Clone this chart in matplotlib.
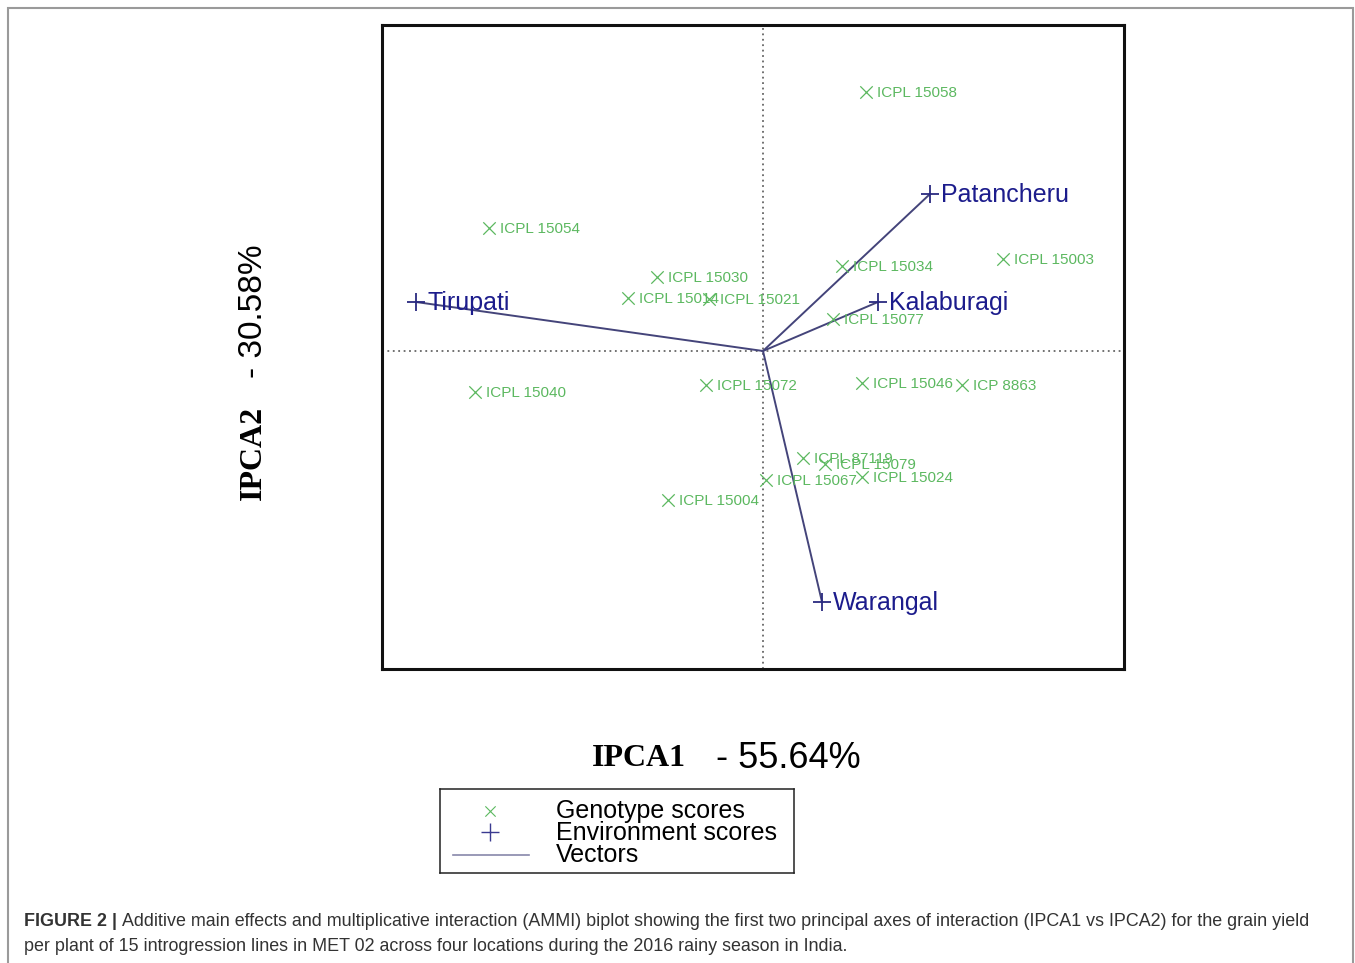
import matplotlib
matplotlib.use("Agg")
import matplotlib.pyplot as plt
from matplotlib.patches import Rectangle

# genotype scores (IPCA1, IPCA2)
genotypes = ["ICPL 15058", "ICPL 15054", "ICPL 15030", "ICPL 15014", "ICPL 15021",
             "ICPL 15034", "ICPL 15003", "ICPL 15077", "ICPL 15040", "ICPL 15072",
             "ICPL 15046", "ICP 8863", "ICPL 87119", "ICPL 15079", "ICPL 15067",
             "ICPL 15024", "ICPL 15004"]
gen_ipca1 = [0.515, -1.37, -0.53, -0.675, -0.27, 0.395, 1.20, 0.35, -1.44, -0.285,
             0.495, 0.995, 0.20, 0.31, 0.015, 0.495, -0.475]
gen_ipca2 = [1.295, 0.615, 0.37, 0.265, 0.26, 0.425, 0.46, 0.16, -0.205, -0.17,
             -0.16, -0.17, -0.535, -0.565, -0.645, -0.63, -0.745]

# environment scores
environments = ["Patancheru", "Tirupati", "Kalaburagi", "Warangal"]
env_ipca1 = [0.835, -1.735, 0.575, 0.295]
env_ipca2 = [0.785, 0.245, 0.245, -1.255]

xlabel_parts = ("IPCA1", "- 55.64%")
ylabel_parts = ("IPCA2", "- 30.58%")
legend_labels = ["Genotype scores", "Environment scores", "Vectors"]
caption_bold = "FIGURE 2 |"
caption_line1 = ("Additive main effects and multiplicative interaction (AMMI) biplot showing the first two "
                 "principal axes of interaction (IPCA1 vs IPCA2) for the grain yield")
caption_line2 = "per plant of 15 introgression lines in MET 02 across four locations during the 2016 rainy season in India."

GREEN = "#5cb860"
NAVY = "#1c1c8c"
VEC = "#44447a"
SANS = ["Liberation Sans", "DejaVu Sans"]
SERIF = ["Liberation Serif", "DejaVu Serif"]

W, H = 1355, 963
fig = plt.figure(figsize=(W / 100, H / 100), dpi=100)
fig.patch.set_facecolor("white")

def fx(px): return px / W
def fy(py): return 1 - py / H

ax = fig.add_axes([fx(382), fy(669), fx(1124) - fx(382), fy(25) - fy(669)])
ax.set_xlim(-1.905, 1.805)
ax.set_ylim(-1.59, 1.63)
ax.set_xticks([]); ax.set_yticks([])
for s in ax.spines.values():
    s.set_linewidth(2.2); s.set_color("#111111")

ax.axvline(0, color="#666666", lw=1.3, ls=(0, (1, 2)), zorder=1)
ax.axhline(0, color="#666666", lw=1.3, ls=(0, (1, 2)), zorder=1)

# vectors
for x, y in zip(env_ipca1, env_ipca2):
    ax.plot([0, x], [0, y], color=VEC, lw=1.4, zorder=2)

ax.scatter(gen_ipca1, gen_ipca2, marker="x", s=80, color=GREEN, linewidths=0.9, zorder=3)
for name, x, y in zip(genotypes, gen_ipca1, gen_ipca2):
    ax.annotate(name, (x, y), xytext=(8, -0.8), textcoords="offset points", va="center",
                ha="left", fontsize=11, color=GREEN, family=SANS, zorder=4)

ax.scatter(env_ipca1, env_ipca2, marker="+", s=150, color="#2a2a80", linewidths=1.3, zorder=3)
for name, x, y in zip(environments, env_ipca1, env_ipca2):
    ax.annotate(name, (x, y), xytext=(8, -0.8), textcoords="offset points", va="center",
                ha="left", fontsize=18, color=NAVY, family=SANS, zorder=4)

# axis titles: bold serif part + sans part
fig.text(fx(592), fy(758), xlabel_parts[0], fontsize=23, fontweight="bold", family=SERIF,
         ha="left", va="center")
fig.text(fx(716), fy(758), xlabel_parts[1], fontsize=26, family=SANS, ha="left", va="center")
fig.text(fx(253), fy(500), ylabel_parts[0], fontsize=23, fontweight="bold", family=SERIF,
         rotation=90, ha="center", va="bottom")
fig.text(fx(253), fy(378), ylabel_parts[1], fontsize=24, family=SANS,
         rotation=90, ha="center", va="bottom")

# legend box
lax = fig.add_axes([fx(440), fy(873), fx(794) - fx(440), fy(789) - fy(873)])
lax.set_xlim(0, 354); lax.set_ylim(84, 0)
lax.set_xticks([]); lax.set_yticks([])
for s in lax.spines.values():
    s.set_linewidth(1.1); s.set_color("#222222")
lax.scatter([50], [22], marker="x", s=55, color=GREEN, linewidths=0.8)
lax.scatter([50], [43], marker="+", s=170, color="#3a3a90", linewidths=1.0)
lax.plot([13, 89], [66, 66], color="#8888aa", lw=1.2)
for i, lab in enumerate(legend_labels):
    lax.text(116, 22 + 22 * i, lab, fontsize=18, family=SANS, va="center", ha="left")

# outer frame
fig.patches.append(Rectangle((fx(8), -0.05), fx(1353) - fx(8), fy(8) + 0.05,
                             transform=fig.transFigure, fill=False, edgecolor="#9a9a9a",
                             lw=1.5, clip_on=False))

# caption
cap_fs = 12.9
renderer = fig.canvas.get_renderer()
tb = fig.text(fx(24), fy(921), caption_bold, fontsize=cap_fs, fontweight="bold",
              family=SANS, color="#333333", ha="left", va="center")
bb = tb.get_window_extent(renderer)
fig.text(bb.x1 / W + fx(5), fy(921), caption_line1, fontsize=cap_fs, family=SANS,
         color="#333333", ha="left", va="center")
fig.text(fx(24), fy(946), caption_line2, fontsize=cap_fs, family=SANS,
         color="#333333", ha="left", va="center")

fig.savefig("out.png", dpi=100)
